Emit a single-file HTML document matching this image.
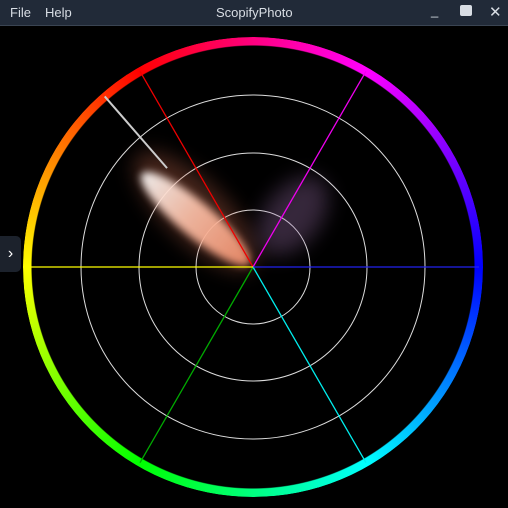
<!DOCTYPE html>
<html><head><meta charset="utf-8"><style>
body{margin:0;width:508px;height:508px;background:#000;overflow:hidden;font-family:"Liberation Sans",sans-serif}
#bar{position:absolute;left:0;top:0;width:508px;height:25px;background:#212a38;border-bottom:1px solid #3a4452;color:#d8dde4;font-size:13px}
#bar span{position:absolute;top:5px}
#ring{position:absolute;left:23px;top:37px;width:460px;height:460px;border-radius:50%;
background:conic-gradient(hsl(330,100%,50%) 0deg,hsl(300,100%,50%) 30deg,hsl(240,100%,50%) 90deg,hsl(180,100%,50%) 150deg,hsl(120,100%,50%) 210deg,hsl(60,100%,50%) 270deg,hsl(0,100%,50%) 330deg,hsl(330,100%,50%) 360deg);
-webkit-mask:radial-gradient(circle,transparent 221px,#000 222px,#000 230px,transparent 231px);mask:radial-gradient(circle,transparent 221px,#000 222px,#000 230px,transparent 231px)}
#tab{position:absolute;left:0;top:236px;width:21px;height:36px;background:#1c222c;border-radius:0 5px 5px 0;color:#fff;font-size:16px;text-align:center;line-height:36px}
</style></head><body>
<div id="bar">
<span style="left:10px">File</span>
<span style="left:45px">Help</span>
<span style="left:216px">ScopifyPhoto</span>
<span style="left:431px;top:3px">_</span>
<span style="left:460px;top:5px;width:12px;height:11px;background:#d8dde4;border-radius:2px"></span>
<span style="left:489px;top:3px;font-size:15px">✕</span>
</div>
<div id="ring"></div>
<div id="tab">›</div>
<svg id="scope" width="508" height="508" style="position:absolute;left:0;top:0">
<defs>
<filter id="b" x="-50%" y="-50%" width="200%" height="200%"><feGaussianBlur stdDeviation="4"/></filter>
<filter id="b2" x="-50%" y="-50%" width="200%" height="200%"><feGaussianBlur stdDeviation="10"/></filter>
<linearGradient id="sk" x1="0" y1="0" x2="1" y2="0"><stop offset="0" stop-color="#fff"/><stop offset="0.45" stop-color="#ffc4ac"/><stop offset="1" stop-color="#f5906c"/></linearGradient>
</defs>
<g id="g"></g>
</svg>
<script>
const cx=253,cy=267;
const gratRadii=[57,114,172];
const hueNames=['red','magenta','blue','cyan','green','yellow'];
const hueAngles=[120,60,0,-60,-120,180];
const hueColors=['#e00','#e0e','#22e','#0ee','#0a0','#ff0'];
const blobAngles=[136,140,52];
const blobStart=[0,5,20];
const blobLength=[160,140,90];
const blobWidth=[60,34,55];
const blobFill=['#c86a50','url(#sk)','#9a70a8'];
const blobOpacity=[0.35,0.9,0.35];
const blobBlur=['url(#b2)','url(#b)','url(#b2)'];
const skinAngle=131, skinR=[131,226];
const g=document.getElementById('g');const NS='http://www.w3.org/2000/svg';
function pt(a,r){const t=a*Math.PI/180;return [cx+r*Math.cos(t),cy-r*Math.sin(t)];}
gratRadii.forEach((r,i)=>{const c=document.createElementNS(NS,'circle');
c.setAttribute('cx',cx);c.setAttribute('cy',cy);c.setAttribute('r',r);c.setAttribute('fill','none');c.setAttribute('stroke','#ddd');c.setAttribute('stroke-width','1');


g.appendChild(c);});
blobAngles.forEach((a,i)=>{const e=document.createElementNS(NS,'ellipse');
const m=blobStart[i]+blobLength[i]/2;const p=pt(a,m);
e.setAttribute('cx',p[0]);e.setAttribute('cy',p[1]);e.setAttribute('rx',blobLength[i]/2);e.setAttribute('ry',blobWidth[i]/2);
e.setAttribute('fill',blobFill[i]);e.setAttribute('opacity',blobOpacity[i]);e.setAttribute('filter',blobBlur[i]);
e.setAttribute('transform','rotate('+(180-a)+' '+p[0]+' '+p[1]+')');


g.appendChild(e);});
hueAngles.forEach((a,i)=>{const p=pt(a,226);const l=document.createElementNS(NS,'line');
l.setAttribute('x1',cx);l.setAttribute('y1',cy);l.setAttribute('x2',p[0]);l.setAttribute('y2',p[1]);l.setAttribute('stroke',hueColors[i]);l.setAttribute('stroke-width','1.3');


g.appendChild(l);});
const a1=pt(skinAngle,skinR[0]),a2=pt(skinAngle,skinR[1]);const s=document.createElementNS(NS,'line');
s.setAttribute('x1',a1[0]);s.setAttribute('y1',a1[1]);s.setAttribute('x2',a2[0]);s.setAttribute('y2',a2[1]);s.setAttribute('stroke','#ccc');s.setAttribute('stroke-width','2');


g.appendChild(s);
</script>
</body></html>
